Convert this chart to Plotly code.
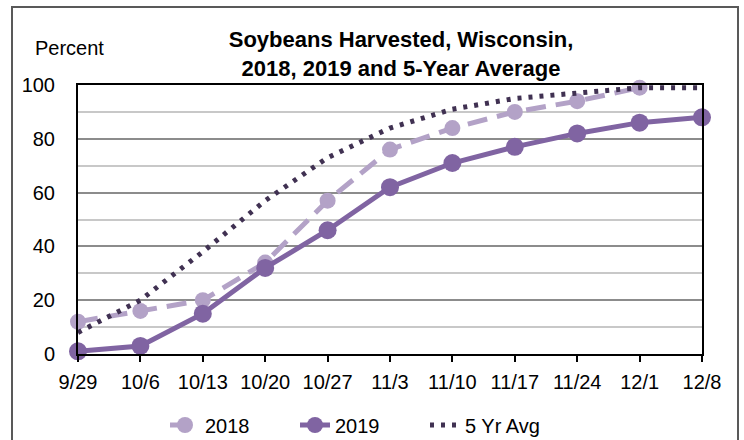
import plotly.graph_objects as go

dates = ["9/29", "10/6", "10/13", "10/20", "10/27", "11/3", "11/10", "11/17", "11/24", "12/1", "12/8"]
y2018 = [12, 16, 20, 34, 57, 76, 84, 90, 94, 99, None]
y2019 = [1, 3, 15, 32, 46, 62, 71, 77, 82, 86, 88]
y5yr = [8, 20, 38, 57, 73, 84, 91, 95, 97, 99, 99]

FONT = "Arial, 'Liberation Sans', sans-serif"
W, H = 744, 440
L, R, T, B = 78, 702, 85, 354

fig = go.Figure()
fig.add_trace(go.Scatter(
    x=dates, y=y2018, name="2018", mode="lines+markers",
    line=dict(color="#B3A2C7", width=5, dash="20px,10px"),
    marker=dict(size=16, color="#B3A2C7"), cliponaxis=False))
fig.add_trace(go.Scatter(
    x=dates, y=y2019, name="2019", mode="lines+markers",
    line=dict(color="#8064A2", width=5),
    marker=dict(size=18, color="#8064A2"), cliponaxis=False))
fig.add_trace(go.Scatter(
    x=dates, y=y5yr, name="5 Yr Avg", mode="lines",
    line=dict(color="#403152", width=5, dash="4px,7px"), cliponaxis=False))

pw, ph = R - L, B - T
def px(x):
    return (x - L) / pw
def py(y):
    return (B - y) / ph

fig.update_layout(
    width=W, height=H,
    margin=dict(l=L, r=W - R, t=T, b=H - B, pad=0, autoexpand=False),
    paper_bgcolor="white", plot_bgcolor="white",
    font=dict(family=FONT, size=20, color="black"),
    title=dict(text="<b>Soybeans Harvested, Wisconsin,<br>2018, 2019 and 5-Year Average</b>",
               x=401 / W, xanchor="center", y=1 - 47 / H, yanchor="middle",
               font=dict(family=FONT, size=22, color="black")),
    showlegend=True,
    legend=dict(orientation="h", x=px(165), xanchor="left", y=py(425), yanchor="middle",
                entrywidth=85, font=dict(family=FONT, size=20), bgcolor="rgba(0,0,0,0)"),
    xaxis=dict(type="category", range=[0, 10], showgrid=False, showline=True,
               linecolor="black", linewidth=2, mirror=True,
               ticks="outside", ticklen=6, tickwidth=2, tickcolor="black",
               ticklabelstandoff=3, fixedrange=True),
    yaxis=dict(range=[0, 100], dtick=20, showgrid=True, gridcolor="#8c8c8c", gridwidth=2,
               minor=dict(dtick=10, showgrid=True, gridcolor="#c8c8c8", gridwidth=2),
               showline=True, linecolor="black", linewidth=2, mirror=True,
               ticks="", ticklabelstandoff=17, zeroline=False, fixedrange=True),
)

fig.add_annotation(text="Percent", xref="paper", yref="paper", x=px(69), y=py(48),
                   xanchor="center", yanchor="middle", showarrow=False,
                   font=dict(family=FONT, size=20, color="black"))

fig.add_shape(type="rect", xref="paper", yref="paper",
              x0=px(12), x1=px(738), y0=py(470), y1=py(7),
              line=dict(color="#595959", width=2), fillcolor="rgba(0,0,0,0)", layer="below")

fig.write_html("out.html", config={"displayModeBar": False},
               post_script="document.body.style.margin='0';document.body.style.overflow='hidden';")
